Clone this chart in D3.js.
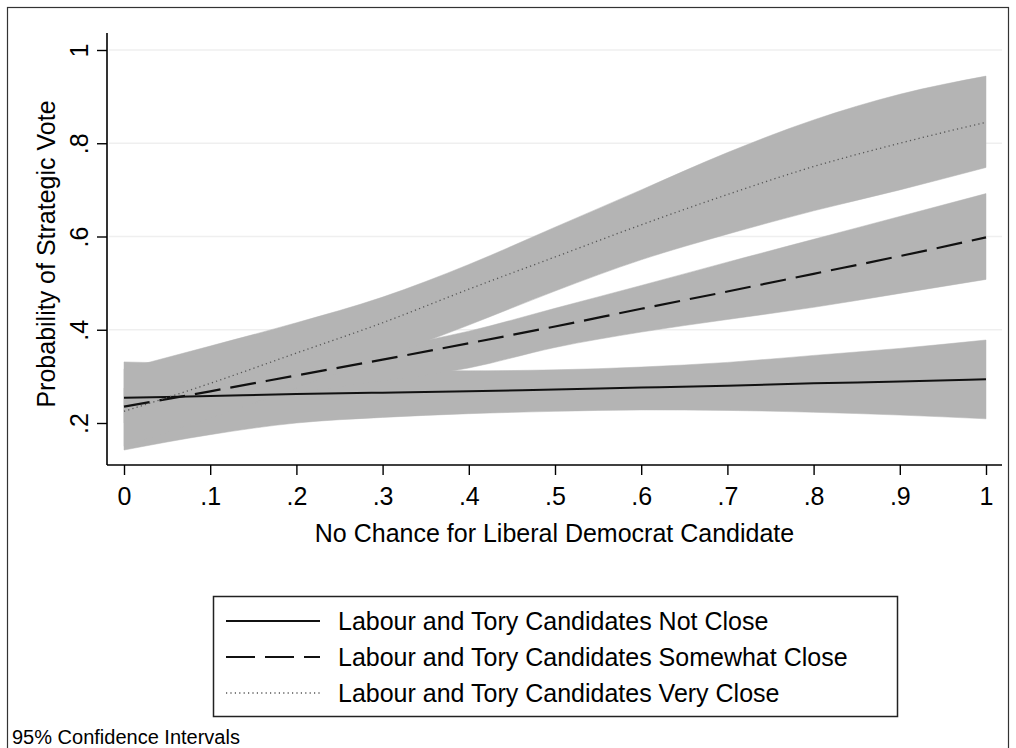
<!DOCTYPE html>
<html>
<head>
<meta charset="utf-8">
<script src="https://cdn.jsdelivr.net/npm/d3@7"></script>
<style>
  body { margin: 0; background: #fff; }
  svg { display: block; font-family: "Liberation Sans", Arial, sans-serif; }
</style>
</head>
<body>
<div id="chart"></div>
<script>
const xValues = [0, 0.1, 0.2, 0.3, 0.4, 0.5, 0.6, 0.7, 0.8, 0.9, 1];

// Labour and Tory Candidates Not Close
const notCloseMean = [0.254, 0.258, 0.262, 0.265, 0.268, 0.272, 0.276, 0.280, 0.285, 0.289, 0.294];
const notCloseLow  = [0.142, 0.175, 0.200, 0.212, 0.220, 0.225, 0.228, 0.227, 0.223, 0.217, 0.209];
const notCloseHigh = [0.331, 0.326, 0.318, 0.313, 0.312, 0.314, 0.320, 0.330, 0.345, 0.360, 0.378];

// Labour and Tory Candidates Somewhat Close
const someCloseMean = [0.235, 0.268, 0.302, 0.336, 0.371, 0.407, 0.445, 0.482, 0.520, 0.558, 0.598];
const someCloseLow  = [0.200, 0.236, 0.265, 0.290, 0.318, 0.362, 0.395, 0.422, 0.448, 0.478, 0.508];
const someCloseHigh = [0.275, 0.300, 0.330, 0.360, 0.397, 0.446, 0.495, 0.545, 0.594, 0.643, 0.692];

// Labour and Tory Candidates Very Close
const veryCloseMean = [0.225, 0.285, 0.350, 0.415, 0.487, 0.556, 0.625, 0.690, 0.750, 0.800, 0.845];
const veryCloseLow  = [0.150, 0.210, 0.275, 0.340, 0.410, 0.483, 0.550, 0.605, 0.655, 0.700, 0.748];
const veryCloseHigh = [0.316, 0.365, 0.415, 0.470, 0.540, 0.620, 0.700, 0.780, 0.850, 0.905, 0.944];

const xTicks = [0, 0.1, 0.2, 0.3, 0.4, 0.5, 0.6, 0.7, 0.8, 0.9, 1];
const yTicks = [0.2, 0.4, 0.6, 0.8, 1];
const seriesNames = [
  'Labour and Tory Candidates Not Close',
  'Labour and Tory Candidates Somewhat Close',
  'Labour and Tory Candidates Very Close'
];

const width = 1016;
const height = 748;
const plotLeft = 107, plotRight = 1002, plotTop = 33, plotBottom = 465;
const bandColor = '#b4b4b4';

const svg = d3.select('#chart')
  .append('svg')
  .attr('width', width)
  .attr('height', height);

// outer frame of the graph
svg.append('rect')
  .attr('x', 7.5).attr('y', 7.5)
  .attr('width', 1001).attr('height', 800)
  .attr('fill', 'none')
  .attr('stroke', '#333')
  .attr('stroke-width', 1.2);

const x = d3.scaleLinear().domain([0, 1]).range([124, 986]);
const y = d3.scaleLinear().domain([0.2, 1]).range([423, 50]);

const fmt = d => (d === 0 ? '0' : d === 1 ? '1' : d3.format('.1f')(d).replace(/^0/, ''));

// faint grid lines
svg.append('g')
  .selectAll('line')
  .data(yTicks.filter(d => d > 0.2))
  .enter()
  .append('line')
  .attr('x1', plotLeft + 2).attr('x2', plotRight)
  .attr('y1', d => y(d)).attr('y2', d => y(d))
  .attr('stroke', '#efefef')
  .attr('stroke-width', 1.5);

const series = [
  { mean: notCloseMean, low: notCloseLow, high: notCloseHigh, dash: null, width: 2, color: '#111' },
  { mean: someCloseMean, low: someCloseLow, high: someCloseHigh, dash: '26,10', width: 2.2, color: '#111' },
  { mean: veryCloseMean, low: veryCloseLow, high: veryCloseHigh, dash: '1.2,3.2', width: 1.3, color: '#555' }
];

const area = d3.area()
  .x(d => x(d.x))
  .y0(d => y(d.lo))
  .y1(d => y(d.hi))
  .curve(d3.curveMonotoneX);

const line = d3.line()
  .x(d => x(d.x))
  .y(d => y(d.v))
  .curve(d3.curveMonotoneX);

// confidence bands first, then the lines on top
series.forEach(s => {
  const rows = xValues.map((v, i) => ({ x: v, lo: s.low[i], hi: s.high[i] }));
  svg.append('path')
    .datum(rows)
    .attr('d', area)
    .attr('fill', bandColor)
    .attr('stroke', bandColor)
    .attr('stroke-width', 0.5);
});

series.forEach(s => {
  const rows = xValues.map((v, i) => ({ x: v, v: s.mean[i] }));
  svg.append('path')
    .datum(rows)
    .attr('d', line)
    .attr('fill', 'none')
    .attr('stroke', s.color)
    .attr('stroke-width', s.width)
    .attr('stroke-dasharray', s.dash);
});

// x axis
const xAxis = svg.append('g')
  .attr('transform', `translate(0,${plotBottom})`)
  .call(d3.axisBottom(x).tickValues(xTicks).tickFormat(fmt).tickSize(10).tickSizeOuter(0).tickPadding(12));
xAxis.select('.domain').remove();
xAxis.append('line')
  .attr('x1', plotLeft).attr('x2', plotRight)
  .attr('stroke', '#000').attr('stroke-width', 1.6);
xAxis.selectAll('.tick line').attr('stroke', '#000').attr('stroke-width', 1.4);
xAxis.selectAll('.tick text')
  .attr('fill', '#000')
  .style('font-size', '25px')
  .style('font-family', '"Liberation Sans", Arial, sans-serif');

// y axis
const yAxis = svg.append('g')
  .attr('transform', `translate(${plotLeft},0)`)
  .call(d3.axisLeft(y).tickValues(yTicks).tickFormat(fmt).tickSize(10).tickSizeOuter(0));
yAxis.select('.domain').remove();
yAxis.append('line')
  .attr('y1', plotTop).attr('y2', plotBottom)
  .attr('stroke', '#000').attr('stroke-width', 1.6);
yAxis.selectAll('.tick line').attr('stroke', '#000').attr('stroke-width', 1.4);
yAxis.selectAll('.tick text')
  .attr('x', null).attr('dy', null)
  .attr('fill', '#000')
  .attr('text-anchor', 'middle')
  .attr('transform', 'translate(-19,0) rotate(-90)')
  .style('font-size', '25px')
  .style('font-family', '"Liberation Sans", Arial, sans-serif');

// axis titles
svg.append('text')
  .attr('x', (plotLeft + plotRight) / 2)
  .attr('y', 542)
  .attr('text-anchor', 'middle')
  .style('font-size', '25px')
  .text('No Chance for Liberal Democrat Candidate');

svg.append('text')
  .attr('transform', `translate(55,254) rotate(-90)`)
  .attr('text-anchor', 'middle')
  .style('font-size', '25px')
  .text('Probability of Strategic Vote');

// legend
const legend = svg.append('g');
legend.append('rect')
  .attr('x', 213.5).attr('y', 596.5)
  .attr('width', 684).attr('height', 120)
  .attr('fill', '#fff')
  .attr('stroke', '#222')
  .attr('stroke-width', 1.5);

const legendRows = legend.selectAll('g.row')
  .data(series)
  .enter()
  .append('g')
  .attr('class', 'row')
  .attr('transform', (d, i) => `translate(0,${621 + i * 36})`);

legendRows.append('line')
  .attr('x1', 226).attr('x2', 320)
  .attr('stroke', d => d.color)
  .attr('stroke-width', d => d.width)
  .attr('stroke-dasharray', d => (d.dash === '26,10' ? '29,10' : d.dash));

legendRows.append('text')
  .attr('x', 338)
  .attr('y', 9)
  .style('font-size', '25px')
  .text((d, i) => seriesNames[i]);

// note
svg.append('text')
  .attr('x', 12)
  .attr('y', 744)
  .style('font-size', '20px')
  .text('95% Confidence Intervals');
</script>
</body>
</html>
